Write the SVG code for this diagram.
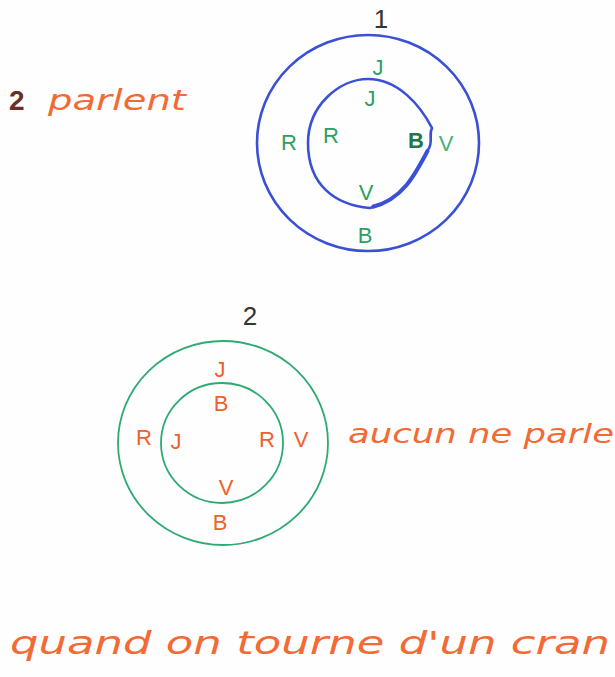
<svg xmlns="http://www.w3.org/2000/svg" width="615" height="677" viewBox="0 0 615 677">
<style>
.bg{fill:#fefefe}
.ring1{fill:none;stroke:#3a50d6;stroke-width:2.6}
.ring2{fill:none;stroke:#2eaa72;stroke-width:1.8}
.g{font-family:"Liberation Sans",Arial,sans-serif;font-size:22px;fill:#2e9e62;text-anchor:middle}
.o{font-family:"Liberation Sans",Arial,sans-serif;font-size:22px;fill:#f0602a;text-anchor:middle}
.num{font-family:"Liberation Sans",Arial,sans-serif;font-size:26px;fill:#333;text-anchor:middle}
.hand{font-family:"DejaVu Sans",sans-serif;font-style:italic;fill:#f26a36}
</style>
<rect class="bg" width="615" height="677"/>
<g id="fig1">
  <text class="num" x="381" y="28">1</text>
  <ellipse class="ring1" cx="368" cy="143" rx="111" ry="108"/>
  <path class="ring1" d="M368 79 C398 79 420 105 432 128 C428 136 434 141 428 150 C415 175 402 200 370 208 C335 205 308 185 308 143 C308 105 340 79 368 79 Z"/>
  <path d="M428 150 C415 175 402 200 372 207" fill="none" stroke="#3a50d6" stroke-width="4"/>
  <text class="g" x="378" y="75">J</text>
  <text class="g" x="370" y="106">J</text>
  <text class="g" x="289" y="150">R</text>
  <text class="g" x="331" y="143">R</text>
  <text class="g" x="416" y="148" style="fill:#1f7a45;font-weight:bold">B</text>
  <text class="g" x="446" y="151" style="fill:#46b07a">V</text>
  <text class="g" x="366" y="200">V</text>
  <text class="g" x="365" y="243">B</text>
</g>
<g id="fig2">
  <text class="num" x="250" y="325">2</text>
  <ellipse class="ring2" cx="223" cy="443" rx="105" ry="102"/>
  <ellipse class="ring2" cx="222" cy="443" rx="61" ry="60"/>
  <text class="o" x="220" y="377">J</text>
  <text class="o" x="221" y="411">B</text>
  <text class="o" x="144" y="445">R</text>
  <text class="o" x="176" y="449">J</text>
  <text class="o" x="267" y="447">R</text>
  <text class="o" x="301" y="447">V</text>
  <text class="o" x="226" y="495">V</text>
  <text class="o" x="220" y="530">B</text>
</g>
<g id="notes">
  <text x="9" y="110" style="font-family:'Liberation Sans',Arial,sans-serif;font-size:28px;font-weight:bold;fill:#6a3028">2</text>
  <text class="hand" x="48" y="110" font-size="28" textLength="138" lengthAdjust="spacingAndGlyphs">parlent</text>
  <text class="hand" x="348" y="443" font-size="26" textLength="266" lengthAdjust="spacingAndGlyphs">aucun ne parle</text>
  <text class="hand" x="10" y="654" font-size="32" textLength="600" lengthAdjust="spacingAndGlyphs">quand on tourne d'un cran</text>
</g>
</svg>
